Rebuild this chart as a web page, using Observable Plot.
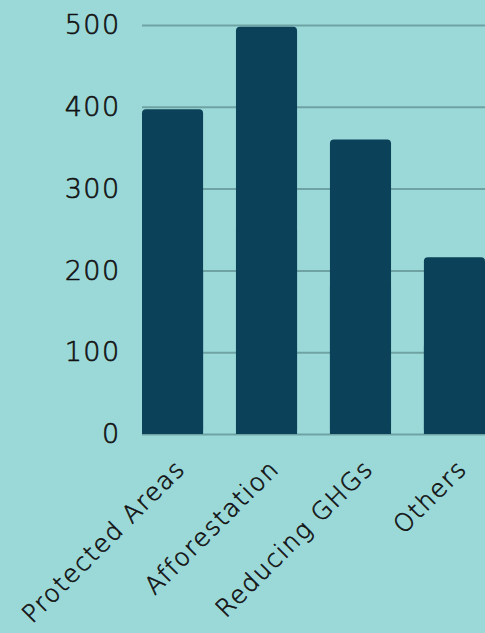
<!DOCTYPE html>
<html>
<head>
<meta charset="utf-8">
<script src="https://cdn.jsdelivr.net/npm/d3@7"></script>
<script src="https://cdn.jsdelivr.net/npm/@observablehq/plot@0.6"></script>
<style>
  html, body { margin: 0; padding: 0; background: #9bd8d8; }
  #chart { width: 485px; height: 633px; overflow: hidden; }
</style>
</head>
<body>
<div id="chart"></div>
<script>
const categories = ["Protected Areas", "Afforestation", "Reducing GHGs", "Others"];
const values = [397, 498, 360, 216];
const yTicks = [0, 100, 200, 300, 400, 500];

const data = categories.map((c, i) => ({category: c, value: values[i]}));

const FONT = "'DejaVu Sans', sans-serif";
const BAR = "#0c415a";
const GRID = "#6fa3a3";
const INK = "#111";

const chart = Plot.plot({
  width: 485,
  height: 633,
  marginLeft: 142,
  marginRight: 0,
  marginTop: 25,
  marginBottom: 199,
  style: {background: "#9bd8d8", fontFamily: FONT, color: INK},
  x: {domain: categories, paddingInner: 0.35, paddingOuter: 0, round: false, axis: null},
  y: {domain: [0, 500], ticks: yTicks, axis: null},
  marks: [
    Plot.ruleY(yTicks, {stroke: GRID, strokeWidth: 2}),
    Plot.barY(data, {x: "category", y: "value", fill: BAR, rx: 4}),
    Plot.barY(data, {x: "category", y1: 0, y2: d => d.value / 2, fill: BAR}),
    Plot.text(yTicks, {
      y: d => d, text: d => String(d), frameAnchor: "left", textAnchor: "end",
      dx: -22, fontSize: 27, fontWeight: 300, fill: INK, stroke: INK, strokeWidth: 0.6,
      className: "ylab"
    }),
    Plot.text(categories, {
      x: d => d, text: d => d, frameAnchor: "bottom", textAnchor: "end",
      lineAnchor: "middle", rotate: -45, dx: 8, dy: 30, fontSize: 24.5, fontWeight: 300,
      fill: INK, stroke: INK, strokeWidth: 0.6, className: "xlab"
    })
  ]
});
document.getElementById("chart").appendChild(chart);
chart.querySelectorAll(".ylab text").forEach(t => t.setAttribute("letter-spacing", "1.4"));
chart.querySelectorAll(".xlab text").forEach(t => t.setAttribute("letter-spacing", "1.6"));
</script>
</body>
</html>
